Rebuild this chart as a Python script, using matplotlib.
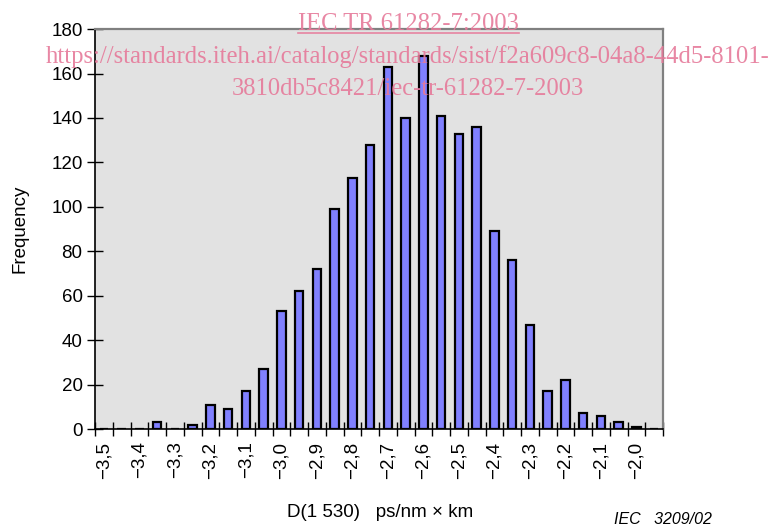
import numpy as np
import matplotlib
matplotlib.use("Agg")
import matplotlib.pyplot as plt
from matplotlib.lines import Line2D

# histogram classes: D(1530) from -3.50 to -1.95 in 0.05 steps
CLASSES = [-3.50, -3.45, -3.40, -3.35, -3.30, -3.25, -3.20, -3.15,
           -3.10, -3.05, -3.00, -2.95, -2.90, -2.85, -2.80, -2.75,
           -2.70, -2.65, -2.60, -2.55, -2.50, -2.45, -2.40, -2.35,
           -2.30, -2.25, -2.20, -2.15, -2.10, -2.05, -2.00, -1.95]
FREQ = [0, 0, 0, 3, 0, 2, 11, 9,
        17, 27, 53, 62, 72, 99, 113, 128,
        163, 140, 168, 141, 133, 136, 89, 76,
        47, 17, 22, 7, 6, 3, 1, 0]
YTICKS = [0, 20, 40, 60, 80, 100, 120, 140, 160, 180]

WATERMARK = ["IEC TR 61282-7:2003",
             "https://standards.iteh.ai/catalog/standards/sist/f2a609c8-04a8-44d5-8101-",
             "3810db5c8421/iec-tr-61282-7-2003"]

plt.rcParams["font.family"] = ["Liberation Sans", "DejaVu Sans"]

fig = plt.figure(figsize=(7.7, 5.29), dpi=100)
ax = fig.add_axes([0.1234, 0.189, 0.7377, 0.756])
ax.set_facecolor("#e2e2e2")

x = np.arange(len(CLASSES))
ax.bar(x, FREQ, width=0.47, color="#8080ff", edgecolor="black", linewidth=1.6, zorder=3)

ax.set_xlim(-0.5, len(CLASSES) - 0.5)
ax.set_ylim(0, 180)

# labels on every other class, tick marks between classes
lab_idx = x[::2]
ax.set_xticks(lab_idx)
ax.set_xticklabels([f"{CLASSES[i]:.1f}".replace("-", "\u2212").replace(".", ",")
                    for i in lab_idx], rotation=90, fontsize=13.5)
ax.tick_params(axis="x", which="major", length=0, pad=9)
ax.set_xticks(np.arange(len(CLASSES) + 1) - 0.5, minor=True)
ax.tick_params(axis="x", which="minor", direction="inout", length=10, width=1.0)

ax.set_yticks(YTICKS)
ax.set_yticklabels([str(v) for v in YTICKS], fontsize=13.5)
ax.tick_params(axis="y", direction="inout", length=12, width=1.0, pad=3)

for s in ("left", "bottom"):
    ax.spines[s].set_color("black")
    ax.spines[s].set_linewidth(1.2)
for s in ("top", "right"):
    ax.spines[s].set_color("#808080")
    ax.spines[s].set_linewidth(1.6)

ax.set_ylabel("Frequency", fontsize=13.5, labelpad=16)
fig.text(0.4935, 0.0227, "D(1 530)   ps/nm \u00d7 km", ha="center", va="baseline", fontsize=13.5)
fig.text(0.798, 0.009, "IEC   3209/02", ha="left", va="baseline", fontsize=11.5, style="italic")

# watermark
pink = "#e67a9a"
wm_y = [0.9433, 0.881, 0.8204]
texts = []
for py, t in zip(wm_y, WATERMARK):
    texts.append(fig.text(0.530, py, t, ha="center", va="baseline", fontsize=17.7,
                          color=pink, family="Liberation Serif", alpha=0.9, zorder=10))

fig.canvas.draw()
bb = texts[0].get_window_extent().transformed(fig.transFigure.inverted())
uy = wm_y[0] - 0.005
fig.add_artist(Line2D([bb.x0, bb.x1], [uy, uy], color=pink,
                      lw=1.2, alpha=0.9, transform=fig.transFigure, zorder=10))

fig.savefig("out.png", dpi=100)
